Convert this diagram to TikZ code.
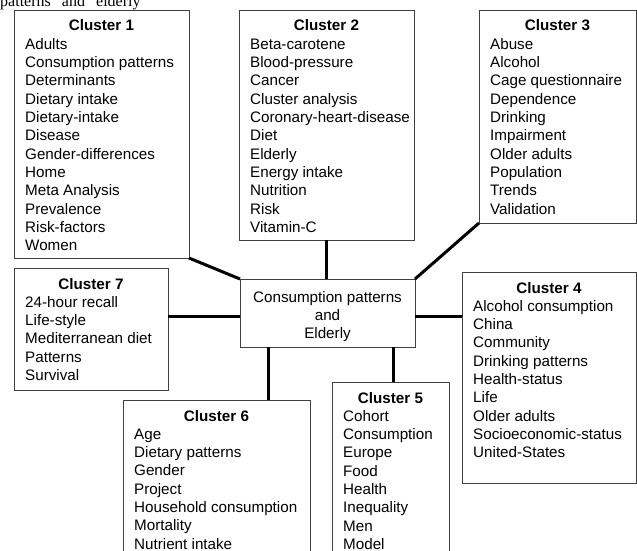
\documentclass[tikz,border=0pt]{standalone}
\usepackage{fontspec}
\setmainfont{Liberation Sans}
\newfontfamily\hdrfont{Liberation Serif}
\usetikzlibrary{calc}
\tikzset{
  box/.style={draw=black!75, line width=0.9pt, rectangle, inner sep=0pt, outer sep=0pt, anchor=north west},
  ttl/.style={font=\bfseries\fontsize{15.2}{18.3}\selectfont, anchor=base, inner sep=0pt},
  itm/.style={font=\fontsize{15.2}{18.3}\selectfont, anchor=base west, inner sep=0pt},
  ctxt/.style={font=\fontsize{15.2}{18.3}\selectfont, anchor=base, inner sep=0pt},
  link/.style={line width=3pt, black},
}
\newcommand{\mkcluster}[7]{%
  \node[box, minimum width=#4pt, minimum height=#5pt] (#1) at (#2,#3) {};
  \node[ttl] (#1-t) at ($(#1.north)+(0,21)$) {#6};
  \foreach \t [count=\i] in {#7} {
    \node[itm] (#1-\i) at ($(#1.north west)+(11,21+18.3*\i)$) {\t};
  }
}
\begin{document}
\begin{tikzpicture}[x=1pt,y=-1pt]
\useasboundingbox (0,0) rectangle (637,551);
\clip (0,0) rectangle (637,551);
\node[anchor=base west, inner sep=0pt, font=\hdrfont\fontsize{16}{18}\selectfont] (hdr) at (0,7) {patterns” and “elderly};

\mkcluster{c1}{14}{10}{175}{248}{Cluster 1}{Adults,Consumption patterns,Determinants,Dietary intake,Dietary-intake,Disease,Gender-differences,Home,Meta Analysis,Prevalence,Risk-factors,Women}
\mkcluster{c2}{239}{10}{175}{230}{Cluster 2}{Beta-carotene,Blood-pressure,Cancer,Cluster analysis,Coronary-heart-disease,Diet,Elderly,Energy intake,Nutrition,Risk,Vitamin-C}
\mkcluster{c3}{479}{10}{157}{213}{Cluster 3}{Abuse,Alcohol,Cage questionnaire,Dependence,Drinking,Impairment,Older adults,Population,Trends,Validation}
\mkcluster{c7}{14}{268}{154}{122}{Cluster 7}{24-hour recall,Life-style,Mediterranean diet,Patterns,Survival}
\mkcluster{c4}{462}{272}{174}{211}{Cluster 4}{Alcohol consumption,China,Community,Drinking patterns,Health-status,Life,Older adults,Socioeconomic-status,United-States}
\mkcluster{c5}{332}{382}{117}{200}{Cluster 5}{Cohort,Consumption,Europe,Food,Health,Inequality,Men,Model}
\mkcluster{c6}{123}{400}{187}{200}{Cluster 6}{Age,Dietary patterns,Gender,Project,Household consumption,Mortality,Nutrient intake}

\node[box, minimum width=175pt, minimum height=68pt] (ctr) at (240,279) {};
\node[ctxt] (ctr-1) at ($(ctr.north)+(0,23)$) {Consumption patterns};
\node[ctxt] (ctr-2) at ($(ctr.north)+(0,41)$) {and};
\node[ctxt] (ctr-3) at ($(ctr.north)+(0,59)$) {Elderly};

\coordinate (lw) at ($(ctr.west)+(0,3)$);
\coordinate (rw) at ($(ctr.east)+(0,3)$);
\coordinate (b6) at ($(ctr.south west)+(28,0)$);
\coordinate (b5) at ($(ctr.south east)+(-22,0)$);

\draw[link] (c1.south east) -- (ctr.north west);
\draw[link] (c2.south) -- (c2.south |- ctr.north);
\draw[link] (c3.south west) -- (ctr.north east);
\draw[link] (lw) -- (lw -| c7.east);
\draw[link] (rw) -- (rw -| c4.west);
\draw[link] (b6) -- (b6 |- c6.north);
\draw[link] (b5) -- (b5 |- c5.north);
\end{tikzpicture}
\end{document}
